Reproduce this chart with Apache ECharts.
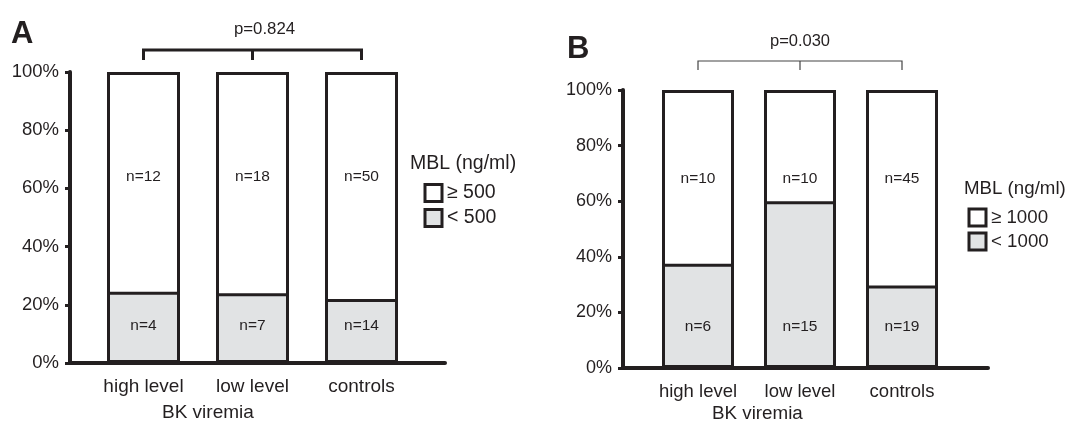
<!DOCTYPE html>
<html>
<head>
<meta charset="utf-8">
<title>MBL levels and BK viremia</title>
<script src="https://cdn.jsdelivr.net/npm/echarts@6/dist/echarts.min.js"></script>
<style>
  html, body { margin: 0; padding: 0; background: #fff; }
  #chart { width: 1069px; height: 421px; }
</style>
</head>
<body>
<div id="chart"></div>
<script>
// groups on the x axis (same in both panels)
const categories = ["high level", "low level", "controls"];

// panel A: MBL cut-off 500 ng/ml, share of patients in %
const lowShareA = [24.5, 24, 22];
const highShareA = [75.5, 76, 78];
const lowCountA = [4, 7, 14];
const highCountA = [12, 18, 50];
const pValueA = "p=0.824";

// panel B: MBL cut-off 1000 ng/ml
const lowShareB = [37.5, 60, 29.7];
const highShareB = [62.5, 40, 70.3];
const lowCountB = [6, 15, 19];
const highCountB = [10, 10, 45];
const pValueB = "p=0.030";

const FONT = "'Liberation Sans', Arial, Helvetica, sans-serif";
const INK = "#231f20";
const GREY = "#e1e3e4";

// builds the grids, axes and series of one panel
function buildPanel(p, gi) {
  const frame = gi, bars = gi + 1;
  const out = { grid: [], xAxis: [], yAxis: [], series: [] };

  // frame grid only carries the axis lines and the % ticks
  out.grid.push({ left: p.frameLeft, top: p.top, width: p.frameWidth, bottom: p.bottom });
  out.grid.push({ left: p.barsLeft, top: p.top, width: p.barsWidth, bottom: p.bottom });

  out.xAxis.push({
    gridIndex: frame, type: "value", min: 0, max: 1,
    axisLine: { show: true, lineStyle: { color: INK, width: 4 } },
    axisTick: { show: false }, axisLabel: { show: false }, splitLine: { show: false }
  });
  out.yAxis.push({
    gridIndex: frame, type: "value", min: 0, max: 100, interval: 20,
    axisLine: { show: true, lineStyle: { color: INK, width: 4 } },
    axisTick: { show: true, length: 5, lineStyle: { color: INK, width: 3 } },
    axisLabel: { formatter: "{value}%", color: INK, fontFamily: FONT, fontSize: p.tickFont, margin: 11 },
    splitLine: { show: false }
  });
  out.xAxis.push({
    gridIndex: bars, type: "category", data: categories,
    axisLine: { show: false }, axisTick: { show: false },
    axisLabel: { color: INK, fontFamily: FONT, fontSize: p.catFont, margin: 14 }
  });
  out.yAxis.push({ gridIndex: bars, type: "value", min: 0, max: 100, show: false });

  // the upper (white) part is drawn as the full column, the grey part on top of it,
  // so the border between the two is a single line
  const column = p.lowShare.map((v, i) => v + p.highShare[i]);
  const seg = (name, data, counts, fill, pos, dist) => ({
    type: "bar", name: name, data: data,
    xAxisIndex: bars, yAxisIndex: bars, barWidth: p.barWidth, barGap: "-100%",
    itemStyle: { color: fill, borderColor: INK, borderWidth: 3 },
    label: {
      show: true, position: pos, distance: dist,
      formatter: (d) => "n=" + counts[d.dataIndex],
      color: INK, fontFamily: FONT, fontSize: 15.5
    },
    emphasis: { disabled: true }
  });
  out.series.push(seg(p.highName, column, p.highCount, "#ffffff", "insideTop", p.labelTop));
  out.series.push(seg(p.lowName, p.lowShare, p.lowCount, GREY, "insideBottom", p.labelBottom));

  // significance bracket above the bars
  const b = p.bracket;
  out.series.push({
    type: "custom", xAxisIndex: bars, yAxisIndex: bars, data: [[0, 100]],
    clip: false, silent: true, z: 5,
    renderItem: function (params, api) {
      const l = api.coord([0, 100]);
      const m = api.coord([1, 100]);
      const r = api.coord([2, 100]);
      const yb = l[1] - b.rise, ye = l[1] - b.drop;
      return {
        type: "group",
        children: [
          { type: "polyline", shape: { points: [[l[0], ye], [l[0], yb], [r[0], yb], [r[0], ye]] },
            style: { stroke: b.color, lineWidth: b.width, fill: null } },
          { type: "line", shape: { x1: m[0], y1: yb, x2: m[0], y2: ye },
            style: { stroke: b.color, lineWidth: b.width } },
          { type: "text", x: m[0] + b.textDx, y: l[1] - b.textRise,
            style: { text: p.pValue, fill: INK, font: p.pFont + "px " + FONT, align: "center", verticalAlign: "middle" } }
        ]
      };
    }
  });
  return out;
}

const panelA = buildPanel({
  frameLeft: 70, frameWidth: 375, barsLeft: 89, barsWidth: 327, top: 72, bottom: 58,
  barWidth: 73, tickFont: 18.5, catFont: 19, labelTop: 97, labelBottom: 29, pFont: 16.8,
  lowName: "< 500", highName: "\u2265 500",
  lowShare: lowShareA, highShare: highShareA, lowCount: lowCountA, highCount: highCountA,
  pValue: pValueA,
  bracket: { width: 3, color: INK, rise: 22, drop: 12, textRise: 43, textDx: 12 }
}, 0);

const panelB = buildPanel({
  frameLeft: 623, frameWidth: 365, barsLeft: 647, barsWidth: 306, top: 90, bottom: 53,
  barWidth: 72, tickFont: 18, catFont: 18.5, labelTop: 81, labelBottom: 33, pFont: 16.5,
  lowName: "< 1000", highName: "\u2265 1000",
  lowShare: lowShareB, highShare: highShareB, lowCount: lowCountB, highCount: highCountB,
  pValue: pValueB,
  bracket: { width: 1.2, color: "#444", rise: 29, drop: 20, textRise: 49, textDx: 0 }
}, 2);

const legendItem = (name, fill) => ({
  name: name, icon: "rect",
  itemStyle: { color: fill, borderColor: INK, borderWidth: 3 }
});

const option = {
  animation: false,
  backgroundColor: "#ffffff",
  textStyle: { fontFamily: FONT },
  title: [
    { text: "A", left: 6, top: 14, padding: 5, textStyle: { fontFamily: FONT, fontSize: 31, fontWeight: "bold", color: INK } },
    { text: "B", left: 562, top: 29, padding: 5, textStyle: { fontFamily: FONT, fontSize: 31, fontWeight: "bold", color: INK } },
    { text: "MBL (ng/ml)", left: 405, top: 149, textStyle: { fontFamily: FONT, fontSize: 19.5, fontWeight: "normal", color: INK } },
    { text: "MBL (ng/ml)", left: 959, top: 174, textStyle: { fontFamily: FONT, fontSize: 18.7, fontWeight: "normal", color: INK } },
    { text: "BK viremia", left: 157, top: 398, textStyle: { fontFamily: FONT, fontSize: 19, fontWeight: "normal", color: INK } },
    { text: "BK viremia", left: 707, top: 399, textStyle: { fontFamily: FONT, fontSize: 18.8, fontWeight: "normal", color: INK } }
  ],
  legend: [
    {
      orient: "vertical", left: 418.5, top: 178, itemWidth: 17, itemHeight: 17, itemGap: 5,
      selectedMode: false,
      textStyle: { fontFamily: FONT, fontSize: 19.5, lineHeight: 20, color: INK },
      data: [legendItem("\u2265 500", "#ffffff"), legendItem("< 500", GREY)]
    },
    {
      orient: "vertical", left: 962.5, top: 202.5, itemWidth: 17, itemHeight: 17, itemGap: 4,
      selectedMode: false,
      textStyle: { fontFamily: FONT, fontSize: 18.7, lineHeight: 19, color: INK },
      data: [legendItem("\u2265 1000", "#ffffff"), legendItem("< 1000", GREY)]
    }
  ],
  grid: panelA.grid.concat(panelB.grid),
  xAxis: panelA.xAxis.concat(panelB.xAxis),
  yAxis: panelA.yAxis.concat(panelB.yAxis),
  series: panelA.series.concat(panelB.series)
};

const chart = echarts.init(document.getElementById("chart"), null, { renderer: "canvas" });
chart.setOption(option);
</script>
</body>
</html>
